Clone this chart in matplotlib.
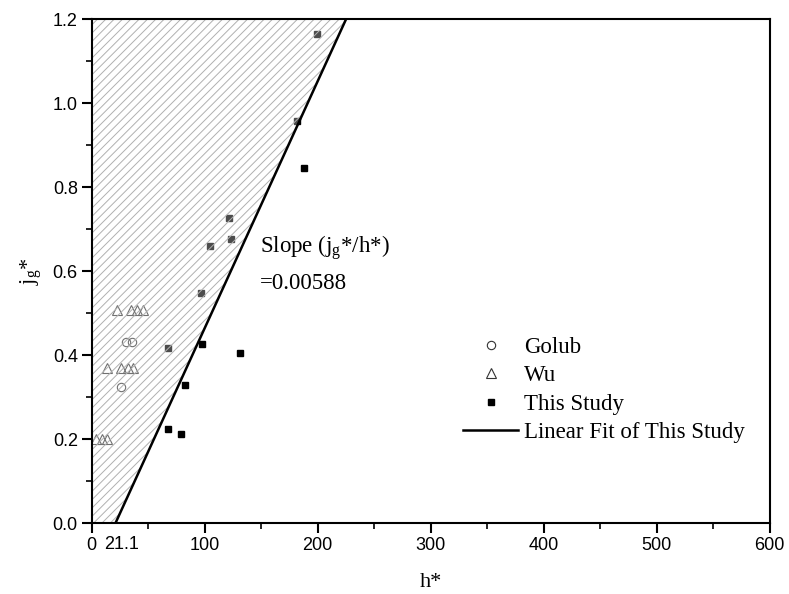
import numpy as np
import matplotlib
matplotlib.use('Agg')
import matplotlib.pyplot as plt
from matplotlib.ticker import MultipleLocator, FormatStrFormatter

# Golub data (open circles)
golub_h = [30.1, 35.8, 26.3]
golub_j = [0.431, 0.431, 0.324]

# Wu data (open triangles)
wu_h = [22.4, 34.9, 40.3, 45.1, 13.4, 26.3, 32.2, 36.7, 3.9, 9.3, 13.7]
wu_j = [0.506, 0.506, 0.506, 0.506, 0.368, 0.368, 0.368, 0.368, 0.201, 0.201, 0.201]

# This study (filled squares)
study_h = [199.6, 181.4, 187.9, 121.5, 123.3, 104.7, 97.0, 67.2, 97.9, 131.2, 83.0, 67.5, 79.4]
study_j = [1.164, 0.956, 0.846, 0.727, 0.676, 0.660, 0.548, 0.4165, 0.427, 0.405, 0.329, 0.224, 0.212]

# linear fit: j = slope * (h - h0)
slope = 0.00588
h0 = 21.1

plt.rcParams['hatch.linewidth'] = 0.7

fig = plt.figure(figsize=(7.89, 5.94), dpi=100)
ax = fig.add_axes([0.1162, 0.1195, 0.8593, 0.8485])

ax.plot(golub_h, golub_j, 'o', mfc='none', mec='#333333', ms=6, mew=0.8,
        label='Golub', zorder=2)
ax.plot(wu_h, wu_j, '^', mfc='none', mec='#333333', ms=7, mew=0.8,
        label='Wu', zorder=2)
ax.plot(study_h, study_j, 's', color='black', ms=5, label='This Study', zorder=2)

jj = np.array([0.0, 1.2])
hh = h0 + jj / slope
ax.fill_betweenx(jj, 0, hh, facecolor=(1, 1, 1, 0.3), edgecolor='#b0b0b0',
                 hatch='////', linewidth=0, zorder=3)
ax.plot(hh, jj, color='black', lw=1.8, label='Linear Fit of This Study', zorder=4)

ax.set_xlim(0, 600)
ax.set_ylim(0, 1.2)
ax.xaxis.set_major_locator(MultipleLocator(100))
ax.xaxis.set_minor_locator(MultipleLocator(50))
ax.yaxis.set_major_locator(MultipleLocator(0.2))
ax.yaxis.set_minor_locator(MultipleLocator(0.1))
ax.yaxis.set_major_formatter(FormatStrFormatter('%.1f'))

for s in ax.spines.values():
    s.set_linewidth(1.5)
    s.set_zorder(5)

ax.tick_params(which='major', direction='out', length=7, width=1.5,
               labelsize=13, pad=3)
ax.tick_params(which='minor', direction='out', length=4, width=1.2)
ax.tick_params(which='both', top=False, right=False)
for lab in ax.get_xticklabels() + ax.get_yticklabels():
    lab.set_family('Liberation Sans')

ax.text(h0 + 5, -0.03, '21.1', ha='center', va='top', fontsize=13,
        family='Liberation Sans')

serif = 'Liberation Serif'
ax.set_xlabel('h*', fontsize=16, family=serif, labelpad=14)
ax.set_ylabel('$\\mathregular{j_g}$*', fontsize=16, family=serif, labelpad=6)

ax.text(149, 0.655, 'Slope ($\\mathregular{j_g}$*/h*)', fontsize=16.5,
        family=serif, va='center', ha='left', zorder=6)
ax.text(149, 0.571, '=0.00588', fontsize=16.5, family=serif, va='center',
        ha='left', zorder=6)

leg = ax.legend(loc='upper left', bbox_to_anchor=(0.548, 0.369), frameon=False,
                prop={'family': serif, 'size': 16.5}, handlelength=2.4,
                handletextpad=0.25, labelspacing=0.32, borderaxespad=0,
                borderpad=0)

fig.savefig('out.png', dpi=100)
